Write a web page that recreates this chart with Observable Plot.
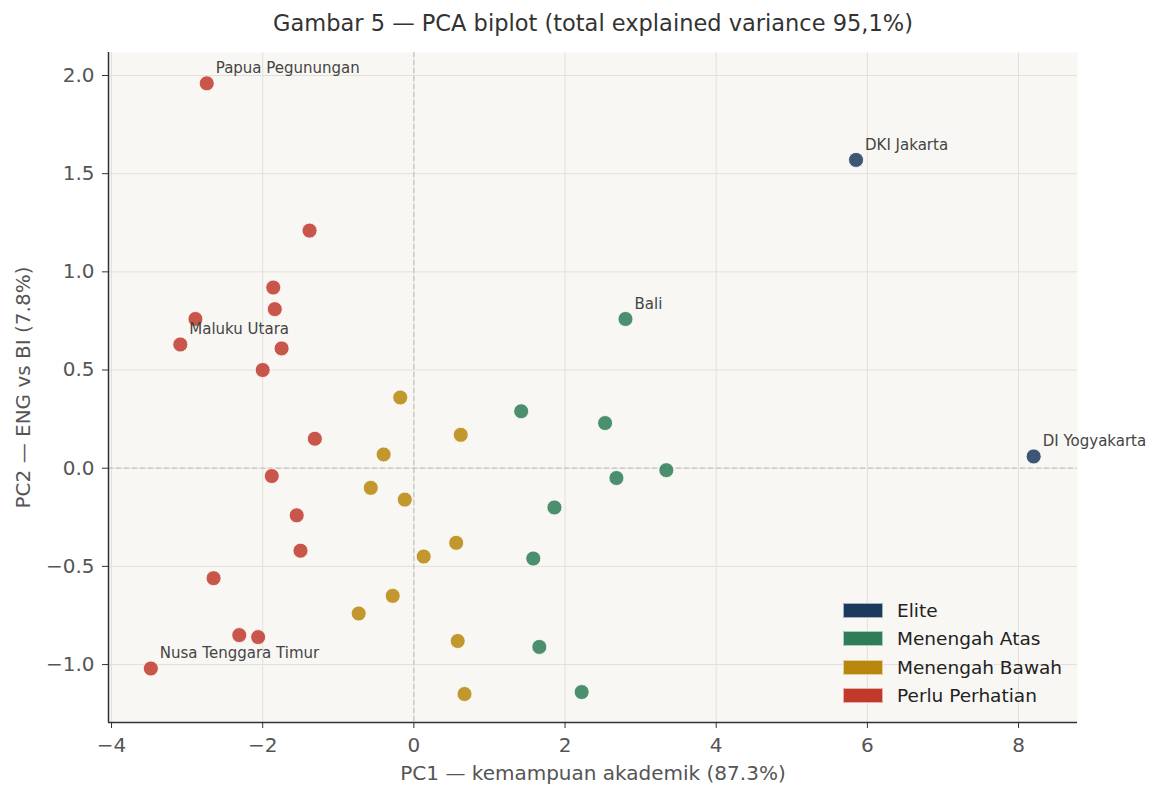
<!DOCTYPE html>
<html>
<head>
<meta charset="utf-8">
<script src="https://cdn.jsdelivr.net/npm/d3@7"></script>
<script src="https://cdn.jsdelivr.net/npm/@observablehq/plot@0.6"></script>
<style>
  html, body { margin: 0; padding: 0; background: #ffffff; }
  #wrap { position: relative; width: 1151px; height: 786px; font-family: "DejaVu Sans", sans-serif; }
  #legend { position: absolute; left: 843px; top: 596px; font-size: 18.5px; color: #222; }
  #legend .row { display: flex; align-items: center; height: 28.5px; }
  #legend .sw { width: 40px; height: 15px; margin-right: 14px; box-sizing: border-box; border: 1px solid rgba(255,255,255,0.6); }
</style>
</head>
<body>
<div id="wrap"></div>
<script>
// ---- data ----
const pc1 = [-2.74, -1.38, -1.86, -1.84, -2.89, -3.09, -1.75, -2.00, -1.31, -1.88, -1.55, -1.50, -2.65, -2.31, -2.06, -3.48,
             -0.18, 0.62, -0.40, -0.57, -0.12, 0.56, 0.13, -0.28, -0.73, 0.58, 0.67,
             2.80, 1.42, 2.53, 3.34, 2.68, 1.86, 1.58, 1.66, 2.22,
             5.85, 8.20];
const pc2 = [1.96, 1.21, 0.92, 0.81, 0.76, 0.63, 0.61, 0.50, 0.15, -0.04, -0.24, -0.42, -0.56, -0.85, -0.86, -1.02,
             0.36, 0.17, 0.07, -0.10, -0.16, -0.38, -0.45, -0.65, -0.74, -0.88, -1.15,
             0.76, 0.29, 0.23, -0.01, -0.05, -0.20, -0.46, -0.91, -1.14,
             1.57, 0.06];
const cluster = [
  "Perlu Perhatian","Perlu Perhatian","Perlu Perhatian","Perlu Perhatian","Perlu Perhatian","Perlu Perhatian","Perlu Perhatian","Perlu Perhatian",
  "Perlu Perhatian","Perlu Perhatian","Perlu Perhatian","Perlu Perhatian","Perlu Perhatian","Perlu Perhatian","Perlu Perhatian","Perlu Perhatian",
  "Menengah Bawah","Menengah Bawah","Menengah Bawah","Menengah Bawah","Menengah Bawah","Menengah Bawah","Menengah Bawah","Menengah Bawah",
  "Menengah Bawah","Menengah Bawah","Menengah Bawah",
  "Menengah Atas","Menengah Atas","Menengah Atas","Menengah Atas","Menengah Atas","Menengah Atas","Menengah Atas","Menengah Atas","Menengah Atas",
  "Elite","Elite"];
const labels = ["Papua Pegunungan","","","","","Maluku Utara","","","","","","","","","","Nusa Tenggara Timur",
  "","","","","","","","","","","",
  "Bali","","","","","","","","",
  "DKI Jakarta","DI Yogyakarta"];
const categories = ["Elite", "Menengah Atas", "Menengah Bawah", "Perlu Perhatian"];
const palette = ["#1b3a5c", "#2e7d57", "#b8860b", "#c0392b"];
const xTicks = [-4, -2, 0, 2, 4, 6, 8];
const yTicks = [-1.0, -0.5, 0.0, 0.5, 1.0, 1.5, 2.0];
const xDomain = [-4.04, 8.78];
const yDomain = [-1.295, 2.117];
const titleText = "Gambar 5 — PCA biplot (total explained variance 95,1%)";
const xLabel = "PC1 — kemampuan akademik (87.3%)";
const yLabel = "PC2 — ENG vs BI (7.8%)";

const rows = pc1.map((v, i) => ({pc1: v, pc2: pc2[i], cluster: cluster[i], label: labels[i]}));
const labeled = rows.filter(d => d.label);

const chart = Plot.plot({
  width: 1151,
  height: 786,
  marginTop: 52,
  marginLeft: 108,
  marginRight: 74,
  marginBottom: 64,
  style: {fontFamily: "DejaVu Sans, sans-serif", background: "#ffffff"},
  x: {domain: xDomain, ticks: xTicks},
  y: {domain: yDomain, ticks: yTicks},
  color: {domain: categories, range: palette},
  marks: [
    Plot.frame({fill: "#f9f7f3", stroke: "none"}),
    Plot.gridX(xTicks, {stroke: "#e3e0db", strokeOpacity: 1, strokeWidth: 1}),
    Plot.gridY(yTicks, {stroke: "#e3e0db", strokeOpacity: 1, strokeWidth: 1}),
    Plot.ruleX([0], {stroke: "#c4c4c4", strokeWidth: 1.2, strokeDasharray: "5,3"}),
    Plot.ruleY([0], {stroke: "#c4c4c4", strokeWidth: 1.2, strokeDasharray: "5,3"}),
    Plot.dot(rows, {x: "pc1", y: "pc2", fill: "cluster", fillOpacity: 0.85, stroke: "white", strokeWidth: 0.8, r: 7.5}),
    Plot.text(labeled, {x: "pc1", y: "pc2", text: "label", dx: 9, dy: -15, textAnchor: "start", fontSize: 15, fill: "#444"}),
    Plot.ruleX([xDomain[0]], {stroke: "#333", strokeWidth: 1.5}),
    Plot.ruleY([yDomain[0]], {stroke: "#333", strokeWidth: 1.5}),
    Plot.axisX(xTicks, {tickSize: 6, tickPadding: 9, fontSize: 20, color: "#555", stroke: "#333", label: null, tickFormat: d => d3.format("d")(d)}),
    Plot.axisY(yTicks, {tickSize: 6, tickPadding: 8, fontSize: 20, color: "#555", stroke: "#333", label: null, tickFormat: d => d3.format(".1f")(d)}),
    Plot.text([titleText], {frameAnchor: "top", dy: -29, fontSize: 22.5, fill: "#333", lineAnchor: "middle", textAnchor: "middle"}),
    Plot.text([xLabel], {frameAnchor: "bottom", dy: 51, fontSize: 20, fill: "#555", lineAnchor: "middle", textAnchor: "middle"}),
    Plot.text([yLabel], {frameAnchor: "left", dx: -85, rotate: -90, fontSize: 20, fill: "#555", lineAnchor: "middle", textAnchor: "middle"})
  ]
});

const wrap = document.getElementById("wrap");
wrap.appendChild(chart);
const legend = document.createElement("div");
legend.id = "legend";
categories.forEach((c, i) => {
  const row = document.createElement("div");
  row.className = "row";
  const sw = document.createElement("div");
  sw.className = "sw";
  sw.style.background = palette[i];
  const t = document.createElement("span");
  t.textContent = c;
  row.appendChild(sw);
  row.appendChild(t);
  legend.appendChild(row);
});
wrap.appendChild(legend);
</script>
</body>
</html>
